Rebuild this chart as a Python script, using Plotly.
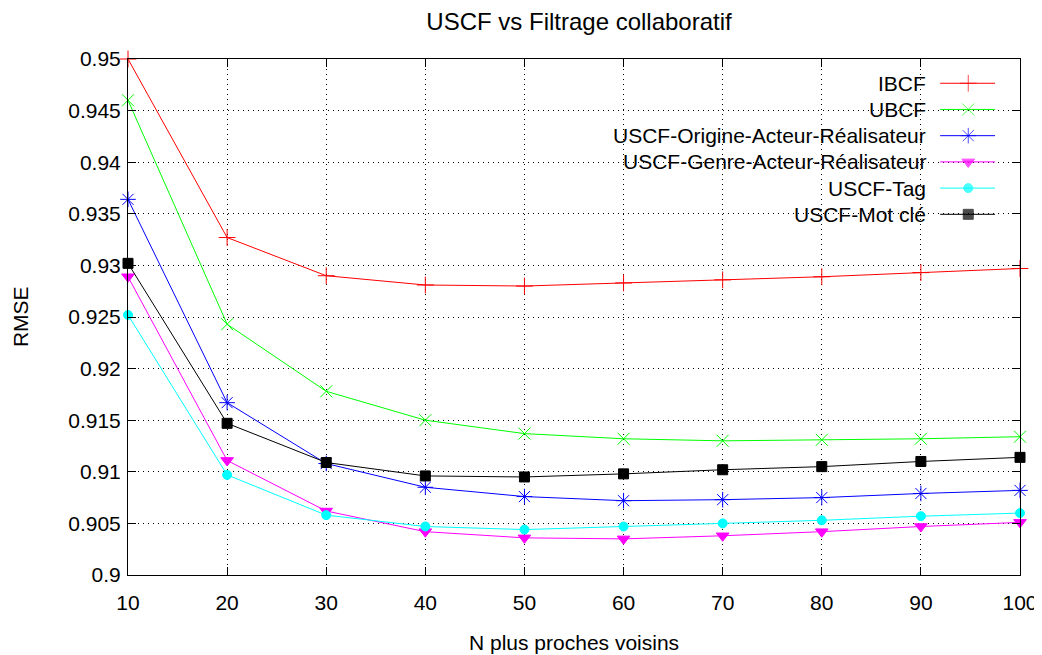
import plotly.graph_objects as go

# N nearest neighbours
neighbours = [10, 20, 30, 40, 50, 60, 70, 80, 90, 100]

ibcf = [0.9500, 0.9327, 0.9290, 0.9281, 0.9280, 0.9283, 0.9286, 0.9289, 0.9293, 0.9297]
ubcf = [0.9460, 0.9243, 0.9178, 0.9150, 0.9137, 0.9132, 0.9130, 0.9131, 0.9132, 0.9134]
uscf_origine = [0.9364, 0.9167, 0.9108, 0.9085, 0.9076, 0.9072, 0.9073, 0.9075, 0.9079, 0.9082]
uscf_genre = [0.9289, 0.9111, 0.9062, 0.9042, 0.9036, 0.9035, 0.9038, 0.9042, 0.9047, 0.9051]
uscf_tag = [0.9252, 0.9097, 0.9058, 0.9047, 0.9044, 0.9047, 0.9050, 0.9053, 0.9057, 0.9060]
uscf_motcle = [0.9302, 0.9147, 0.9109, 0.9096, 0.9095, 0.9098, 0.9102, 0.9105, 0.9110, 0.9114]

y_ticks = [0.9, 0.905, 0.91, 0.915, 0.92, 0.925, 0.93, 0.935, 0.94, 0.945, 0.95]

series = [
    ("IBCF", ibcf, "#ff0000", "cross-thin-open", 12),
    ("UBCF", ubcf, "#00ff00", "x-thin-open", 12),
    ("USCF-Origine-Acteur-Réalisateur", uscf_origine, "#0000ff", "asterisk-open", 13),
    ("USCF-Genre-Acteur-Réalisateur", uscf_genre, "#ff00ff", "triangle-down", 11),
    ("USCF-Tag", uscf_tag, "#00ffff", "circle", 9),
    ("USCF-Mot clé", uscf_motcle, "#000000", "square", 10),
]

FONT = "Liberation Sans, Arial, sans-serif"

fig = go.Figure()

for name, vals, color, symbol, size in series:
    fig.add_trace(go.Scatter(
        x=neighbours, y=vals, mode="lines+markers", name=name,
        line=dict(color=color, width=1),
        marker=dict(symbol=symbol, size=size, color=color, line=dict(color=color, width=1)),
        cliponaxis=False, showlegend=False,
    ))

# gnuplot-style key: text right aligned, sample to the right
key_text_x = 0.897
key_x0, key_xm, key_x1 = 0.9105, 0.942, 0.972
key_top = 0.953
key_step = 0.0508
for i, (name, vals, color, symbol, size) in enumerate(series):
    ky = key_top - i * key_step
    fig.add_trace(go.Scatter(
        x=[key_x0, key_xm, key_x1], y=[ky, ky, ky], mode="lines+markers",
        xaxis="x2", yaxis="y2",
        line=dict(color=color, width=1),
        marker=dict(symbol=symbol, size=[0, size, 0], color=color, line=dict(color=color, width=1)),
        showlegend=False, hoverinfo="skip", cliponaxis=False,
    ))
    fig.add_annotation(xref="paper", yref="paper", x=key_text_x, y=ky, text=name,
                       xanchor="right", yanchor="middle", showarrow=False,
                       font=dict(size=21, color="black", family=FONT))

# opaque key box hides the grid
fig.add_shape(type="rect", xref="paper", yref="paper", x0=0.489, x1=1, y0=0.665, y1=1,
              fillcolor="white", line=dict(width=0), layer="between")

fig.add_annotation(xref="paper", yref="paper", x=0.5, y=-0.13, text="N plus proches voisins",
                   showarrow=False, xanchor="center", yanchor="middle",
                   font=dict(size=21, color="black", family=FONT))
fig.add_annotation(xref="paper", yref="paper", x=-0.121, y=0.5, text="RMSE", textangle=-90,
                   showarrow=False, xanchor="center", yanchor="middle",
                   font=dict(size=21, color="black", family=FONT))

axis_common = dict(
    showline=True, linecolor="black", linewidth=1, mirror="ticks",
    ticks="inside", ticklen=8, tickcolor="black", tickwidth=1,
    showgrid=True, gridcolor="black", gridwidth=1, griddash="1px,4px",
    zeroline=False, tickfont=dict(size=21, color="black", family=FONT),
)

# the page body adds an 8px offset, so margins are shifted by that much
fig.update_layout(
    width=1042, height=655,
    margin=dict(l=120, r=28, t=51, b=88),
    plot_bgcolor="white", paper_bgcolor="white",
    font=dict(family=FONT, color="black"),
    title=dict(text="USCF vs Filtrage collaboratif", x=0.548, xanchor="center",
               y=1 - 14 / 655, yanchor="middle", yref="container",
               font=dict(size=24, color="black", family=FONT)),
    xaxis=dict(range=[10, 100], tickvals=neighbours, ticklabelstandoff=9, **axis_common),
    yaxis=dict(range=[0.9, 0.95], tickvals=y_ticks, ticktext=[f"{v:g}" for v in y_ticks],
               ticklabelstandoff=2, **axis_common),
    xaxis2=dict(overlaying="x", range=[0, 1], visible=False),
    yaxis2=dict(overlaying="y", range=[0, 1], visible=False),
    showlegend=False,
)

fig.write_html("out.html")
